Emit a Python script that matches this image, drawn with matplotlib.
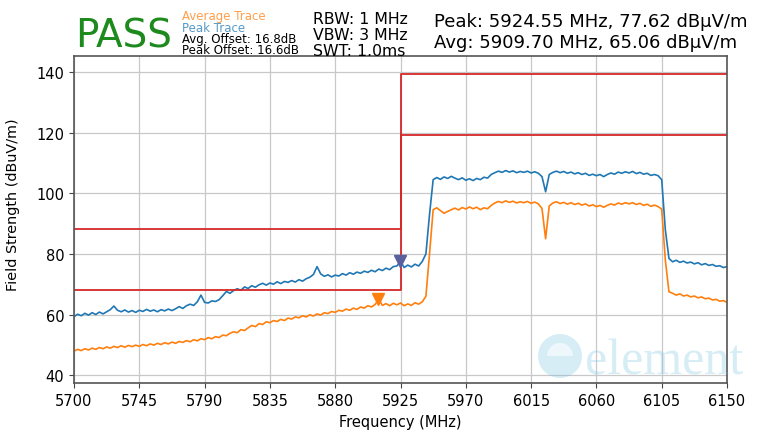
import numpy as np
import matplotlib
matplotlib.use('Agg')
import matplotlib.pyplot as plt
from matplotlib.patches import Circle, Wedge

# frequency grid of the trace samples (MHz)
freqs = np.arange(5700, 6150.01, 2.5)

peak_trace = [
    59.3, 60.1, 59.6, 60.4, 59.8, 60.6, 60.0, 60.8, 60.2,
    60.9, 61.6, 62.8, 61.4, 60.9, 61.5, 60.8, 61.3, 60.7, 61.4,
    61.0, 61.7, 61.1, 61.5, 60.9, 61.6, 61.2, 61.8, 61.3, 61.9,
    62.6, 62.0, 62.9, 63.4, 63.0, 64.2, 66.4, 64.0, 63.8, 64.5,
    64.3, 64.9, 66.2, 67.6, 67.0, 67.9, 68.5, 68.0, 69.1, 68.6,
    69.5, 69.0, 69.8, 70.3, 69.7, 70.4, 70.0, 70.8, 70.2, 70.9,
    70.6, 71.2, 70.7, 71.5, 71.0, 71.8, 72.3, 73.2, 75.8, 73.4,
    72.6, 73.1, 72.4, 73.0, 72.7, 73.5, 73.0, 73.8, 73.3, 74.0,
    73.6, 74.3, 73.9, 74.6, 74.1, 75.0, 74.5, 75.3, 74.8, 75.8,
    76.0, 77.6, 75.5, 76.3, 75.7, 76.6, 76.0, 77.5, 80.0, 93.0, 104.5,
    105.2, 104.6, 105.4, 104.9, 105.6, 105.0, 104.5, 105.1, 104.3, 104.8,
    104.2, 104.9, 104.5, 105.3, 105.0, 106.2,
    106.8, 107.3, 106.9, 107.5, 107.0, 107.4, 106.8, 107.2, 106.9, 107.3,
    106.7, 107.1, 106.6, 105.5, 100.5, 106.2,
    106.9, 107.3, 106.8, 107.2, 106.6, 107.0, 106.4, 106.8, 106.2, 106.6,
    105.9, 106.3, 105.8, 106.2,
    105.5, 106.2, 106.7, 106.3, 107.0, 106.6, 107.1, 106.7, 107.2, 106.5,
    106.9, 106.3, 106.6, 105.9, 106.2, 105.8,
    104.5, 88.0, 78.5,
    77.4, 77.9, 77.2, 77.6, 77.0, 77.3, 76.7, 77.1, 76.4, 76.8,
    76.2, 76.5, 75.9, 76.1, 75.5, 75.8,
]

avg_trace = [
    47.9, 48.5, 48.1, 48.7, 48.3, 48.9, 48.5, 49.1, 48.7,
    49.3, 48.9, 49.5, 49.1, 49.7, 49.2, 49.8, 49.4, 49.9, 49.5,
    50.1, 49.7, 50.3, 49.9, 50.5, 50.1, 50.7, 50.3, 50.9, 50.5,
    51.1, 50.8, 51.4, 51.0, 51.7, 51.3, 52.0, 51.7, 52.4, 52.0,
    52.7, 52.4, 53.2, 53.0, 53.8, 54.3, 54.0, 55.0, 54.7, 55.6,
    56.4, 56.0, 57.0, 56.7, 57.6, 57.3, 58.0, 57.7, 58.4, 58.0,
    58.8, 58.5, 59.2, 58.9, 59.6, 59.2, 59.9, 59.5, 60.2, 59.8,
    60.6, 60.3, 61.0, 60.7, 61.4, 61.1, 61.8, 61.4, 62.1, 61.7,
    62.5, 62.1, 62.9, 62.5, 63.3, 65.1, 63.0, 63.6, 62.9, 63.7,
    63.2, 63.8, 62.9, 63.5, 63.0, 63.9, 63.4, 64.2, 66.0, 80.0, 94.6,
    95.2, 94.3, 93.4, 94.0, 94.6, 95.1, 94.5, 95.3, 94.8, 95.5,
    94.9, 95.4, 94.6, 95.2, 94.9, 96.0,
    96.8, 97.3, 96.9, 97.5, 97.0, 97.4, 96.8, 97.2, 96.9, 97.3,
    96.7, 97.1, 96.5, 95.0, 85.0, 95.8,
    96.8, 97.2, 96.6, 97.0, 96.4, 96.9, 96.3, 96.7, 96.1, 96.5,
    95.8, 96.2, 95.6, 96.0,
    95.4, 96.0, 96.5, 96.1, 96.8, 96.4, 96.9, 96.5, 96.9, 96.3,
    96.7, 96.0, 96.4, 95.7, 96.1, 95.6,
    94.8, 78.0, 67.5,
    67.0, 66.4, 66.8, 66.1, 66.4, 65.8, 66.1, 65.5, 65.8, 65.2,
    65.4, 64.8, 65.0, 64.4, 64.6, 64.0,
]

# limit lines
limit_freqs = [5700, 5925, 5925, 6150]
avg_limit = [68.2, 68.2, 119.2, 119.2]
peak_limit = [88.2, 88.2, 139.2, 139.2]

# detected maxima
peak_freq, peak_level = 5924.55, 77.62
avg_freq, avg_level = 5909.70, 65.06

x_ticks = [5700, 5745, 5790, 5835, 5880, 5925, 5970, 6015, 6060, 6105, 6150]
y_ticks = [40, 60, 80, 100, 120, 140]

assert len(peak_trace) == len(freqs), len(peak_trace)
assert len(avg_trace) == len(freqs), len(avg_trace)

fig = plt.figure(figsize=(7.63, 4.35), dpi=100)
ax = fig.add_axes([74 / 763, 1 - 384 / 435, 653 / 763, 327 / 435])

ax.plot(freqs, peak_trace, color='tab:blue', lw=1.2)
ax.plot(freqs, avg_trace, color='tab:orange', lw=1.2)
ax.plot(limit_freqs, avg_limit, color='#d62728', lw=1.3)
ax.plot(limit_freqs, peak_limit, color='#d62728', lw=1.3)
ax.plot([peak_freq], [peak_level], marker='v', ms=8, color='#5a5f9e', ls='none')
ax.plot([avg_freq], [avg_level], marker='v', ms=8, color='tab:orange', ls='none')

ax.set_xlim(5700, 6150)
ax.set_ylim(37.4, 145.3)
ax.set_xticks(x_ticks)
ax.set_yticks(y_ticks)
ax.tick_params(labelsize=10.5, color='#444444')
ax.grid(True, color='#c8c8c8', lw=0.9)
for sp in ax.spines.values():
    sp.set_color('#555555')
    sp.set_linewidth(1.2)

ax.set_xlabel('Frequency (MHz)', fontsize=10.5)
ax.xaxis.set_label_coords(0.5, -0.095)
ax.set_ylabel('Field Strength (dBuV/m)', fontsize=10.4)
ax.yaxis.set_label_coords(-0.083, 0.547)

# header
fig.text(75 / 763, 1 - 47 / 435, 'PASS', fontsize=28, color='#1e8a1e', va='baseline')
fig.text(182 / 763, 1 - 20 / 435, 'Average Trace', fontsize=8.5, color='tab:orange', alpha=0.75, va='baseline')
fig.text(182 / 763, 1 - 31.5 / 435, 'Peak Trace', fontsize=8.5, color='tab:blue', alpha=0.75, va='baseline')
fig.text(182 / 763, 1 - 43 / 435, 'Avg. Offset: 16.8dB', fontsize=8.5, va='baseline')
fig.text(182 / 763, 1 - 54.5 / 435, 'Peak Offset: 16.6dB', fontsize=8.5, va='baseline')
fig.text(313 / 763, 1 - 24 / 435, 'RBW: 1 MHz', fontsize=11.3, va='baseline')
fig.text(313 / 763, 1 - 40 / 435, 'VBW: 3 MHz', fontsize=11.3, va='baseline')
fig.text(313 / 763, 1 - 56 / 435, 'SWT: 1.0ms', fontsize=11.3, va='baseline')
fig.text(434 / 763, 1 - 27 / 435, 'Peak: %.2f MHz, %.2f dBµV/m' % (peak_freq, peak_level), fontsize=13, va='baseline')
fig.text(434 / 763, 1 - 48 / 435, 'Avg: %.2f MHz, %.2f dBµV/m' % (avg_freq, avg_level), fontsize=13, va='baseline')

# watermark
wm = '#7cc4e3'
fig.patches.append(Circle((5.60, 0.78), 0.22, transform=fig.dpi_scale_trans, facecolor=wm, alpha=0.3, edgecolor='none'))
fig.patches.append(Wedge((5.60, 0.78), 0.13, 0, 180, transform=fig.dpi_scale_trans, facecolor='white', alpha=0.6, edgecolor='none'))
fig.text(585 / 763, 1 - 375 / 435, 'element', fontsize=36, family='Liberation Serif', color=wm, alpha=0.3, va='baseline')

fig.savefig('out.png', dpi=100)
